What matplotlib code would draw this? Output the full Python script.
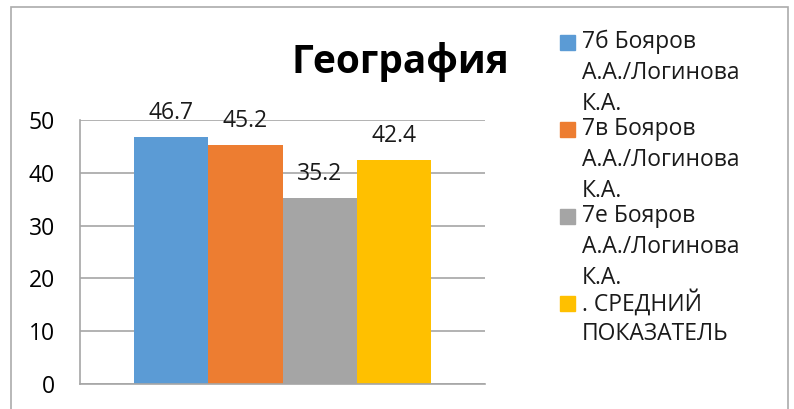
import matplotlib
matplotlib.use("Agg")
import matplotlib.pyplot as plt
from matplotlib.patches import Rectangle

plt.rcParams['font.family'] = ['Open Sans', 'DejaVu Sans']

title = "География"
series_labels = [
    ["7б Бояров", "А.А./Логинова", "К.А."],
    ["7в Бояров", "А.А./Логинова", "К.А."],
    ["7е Бояров", "А.А./Логинова", "К.А."],
    [". СРЕДНИЙ", "ПОКАЗАТЕЛЬ"],
]
values = [46.7, 45.2, 35.2, 42.4]
value_labels = ["46.7", "45.2", "35.2", "42.4"]
colors = ["#5B9BD5", "#ED7D31", "#A5A5A5", "#FFC000"]
yticks = [0, 10, 20, 30, 40, 50]

W, H = 794, 409
fig = plt.figure(figsize=(W / 100, H / 100), dpi=100)

def fx(px):
    return px / W

def fy(py):
    return 1 - py / H

FS = 16.5

# outer chart frame
fig.patches.append(Rectangle((fx(11), fy(420)), fx(788) - fx(11), fy(7) - fy(420),
                             transform=fig.transFigure, fill=False,
                             edgecolor="#ABABAB", linewidth=1.2))

ax = fig.add_axes([fx(80), fy(384), fx(485) - fx(80), fy(120) - fy(384)])
xs = list(range(len(values)))
ax.bar(xs, values, width=1.0, color=colors, zorder=2)
ax.set_xlim(1.5 - 2.736, 1.5 + 2.736)
ax.set_ylim(0, 50)
ax.set_yticks(yticks)
ax.set_yticklabels([str(t) for t in yticks], fontsize=FS)
ax.set_xticks([])
ax.tick_params(axis='y', length=0, pad=18)
ax.yaxis.grid(True, color="#A6A6A6", linewidth=1.2, zorder=0)
ax.set_axisbelow(True)
for side in ["top", "right"]:
    ax.spines[side].set_visible(False)
for side in ["left", "bottom"]:
    ax.spines[side].set_color("#A6A6A6")
    ax.spines[side].set_linewidth(1.2)

for x, v, lab in zip(xs, values, value_labels):
    ax.annotate(lab, (x, v), xytext=(0, 13), textcoords="offset points",
                ha="center", va="baseline", fontsize=FS, color="#1A1A1A")

fig.text(fx(400), fy(73), title, ha="center", va="baseline",
         fontsize=28, fontweight="bold", color="#000000")

# legend
for i, (lines, c) in enumerate(zip(series_labels, colors)):
    y0 = 42 + i * 87
    fig.patches.append(Rectangle((fx(560), fy(y0 + 7.5)), fx(15), 15 / H,
                                 transform=fig.transFigure, color=c))
    for j, line in enumerate(lines):
        fig.text(fx(582), fy(y0 + j * 31), line, ha="left", va="center",
                 fontsize=FS, color="#1A1A1A")

fig.savefig("out.png", dpi=100)
